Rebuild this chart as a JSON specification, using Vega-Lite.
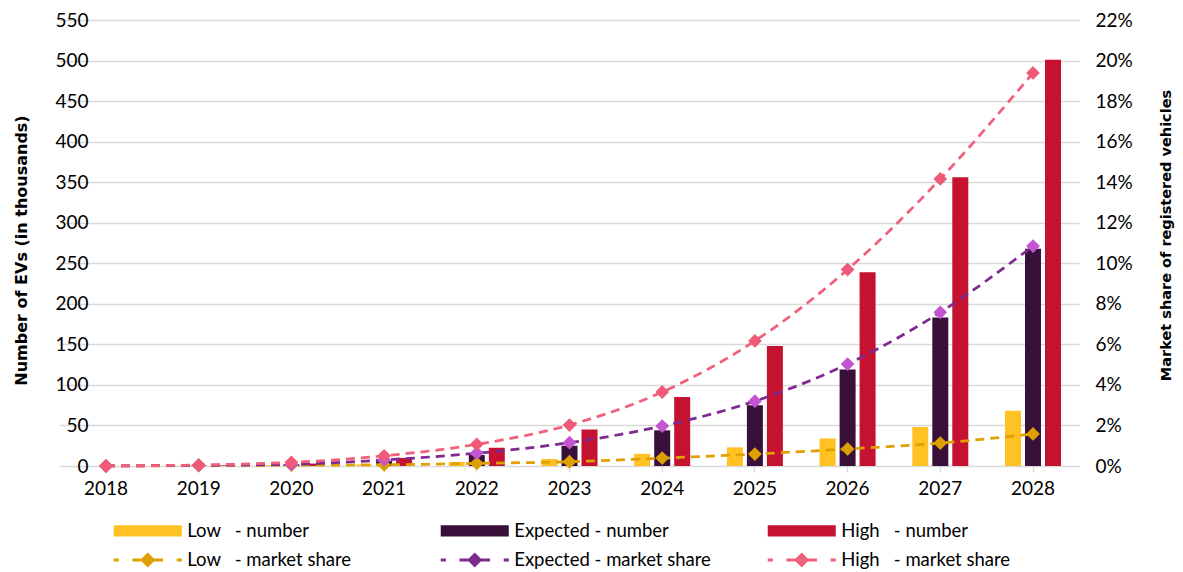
{
  "$schema": "https://vega.github.io/schema/vega-lite/v6.json",
  "width": 974,
  "height": 446,
  "autosize": {"type": "none"},
  "padding": {"left": 106, "top": 20, "right": 103, "bottom": 106},
  "background": "white",
  "config": {
    "view": {"stroke": null},
    "font": "Lato",
    "axis": {"labelFont": "Lato", "labelFontSize": 19, "labelColor": "#000000", "titleFont": "DejaVu Sans", "titleFontWeight": "bold", "titleFontSize": 16, "titleColor": "#000000"}
  },
  "data": {
    "values": [
      {"year": "2018", "scenario": "Low", "number": 0, "share": 0, "numLabel": "Low\u00a0\u00a0 - number", "shareLabel": "Low\u00a0\u00a0 - market share"},
      {"year": "2018", "scenario": "Expected", "number": 0, "share": 0, "numLabel": "Expected - number", "shareLabel": "Expected - market share"},
      {"year": "2018", "scenario": "High", "number": 0, "share": 0, "numLabel": "High\u00a0\u00a0 - number", "shareLabel": "High\u00a0\u00a0 - market share"},
      {"year": "2019", "scenario": "Low", "number": 0.3, "share": 0.0002, "numLabel": "Low\u00a0\u00a0 - number", "shareLabel": "Low\u00a0\u00a0 - market share"},
      {"year": "2019", "scenario": "Expected", "number": 0.5, "share": 0.0003, "numLabel": "Expected - number", "shareLabel": "Expected - market share"},
      {"year": "2019", "scenario": "High", "number": 0.8, "share": 0.0005, "numLabel": "High\u00a0\u00a0 - number", "shareLabel": "High\u00a0\u00a0 - market share"},
      {"year": "2020", "scenario": "Low", "number": 1, "share": 0.0004, "numLabel": "Low\u00a0\u00a0 - number", "shareLabel": "Low\u00a0\u00a0 - market share"},
      {"year": "2020", "scenario": "Expected", "number": 2, "share": 0.0008, "numLabel": "Expected - number", "shareLabel": "Expected - market share"},
      {"year": "2020", "scenario": "High", "number": 3, "share": 0.0018, "numLabel": "High\u00a0\u00a0 - number", "shareLabel": "High\u00a0\u00a0 - market share"},
      {"year": "2021", "scenario": "Low", "number": 2, "share": 0.0006, "numLabel": "Low\u00a0\u00a0 - number", "shareLabel": "Low\u00a0\u00a0 - market share"},
      {"year": "2021", "scenario": "Expected", "number": 6, "share": 0.003, "numLabel": "Expected - number", "shareLabel": "Expected - market share"},
      {"year": "2021", "scenario": "High", "number": 10, "share": 0.005, "numLabel": "High\u00a0\u00a0 - number", "shareLabel": "High\u00a0\u00a0 - market share"},
      {"year": "2022", "scenario": "Low", "number": 5, "share": 0.0013, "numLabel": "Low\u00a0\u00a0 - number", "shareLabel": "Low\u00a0\u00a0 - market share"},
      {"year": "2022", "scenario": "Expected", "number": 13.5, "share": 0.0063, "numLabel": "Expected - number", "shareLabel": "Expected - market share"},
      {"year": "2022", "scenario": "High", "number": 22.5, "share": 0.0107, "numLabel": "High\u00a0\u00a0 - number", "shareLabel": "High\u00a0\u00a0 - market share"},
      {"year": "2023", "scenario": "Low", "number": 8.6, "share": 0.0021, "numLabel": "Low\u00a0\u00a0 - number", "shareLabel": "Low\u00a0\u00a0 - market share"},
      {"year": "2023", "scenario": "Expected", "number": 25, "share": 0.0115, "numLabel": "Expected - number", "shareLabel": "Expected - market share"},
      {"year": "2023", "scenario": "High", "number": 45, "share": 0.0202, "numLabel": "High\u00a0\u00a0 - number", "shareLabel": "High\u00a0\u00a0 - market share"},
      {"year": "2024", "scenario": "Low", "number": 15, "share": 0.0039, "numLabel": "Low\u00a0\u00a0 - number", "shareLabel": "Low\u00a0\u00a0 - market share"},
      {"year": "2024", "scenario": "Expected", "number": 44, "share": 0.0197, "numLabel": "Expected - number", "shareLabel": "Expected - market share"},
      {"year": "2024", "scenario": "High", "number": 85, "share": 0.0365, "numLabel": "High\u00a0\u00a0 - number", "shareLabel": "High\u00a0\u00a0 - market share"},
      {"year": "2025", "scenario": "Low", "number": 23, "share": 0.0059, "numLabel": "Low\u00a0\u00a0 - number", "shareLabel": "Low\u00a0\u00a0 - market share"},
      {"year": "2025", "scenario": "Expected", "number": 75, "share": 0.032, "numLabel": "Expected - number", "shareLabel": "Expected - market share"},
      {"year": "2025", "scenario": "High", "number": 148, "share": 0.0617, "numLabel": "High\u00a0\u00a0 - number", "shareLabel": "High\u00a0\u00a0 - market share"},
      {"year": "2026", "scenario": "Low", "number": 34, "share": 0.0084, "numLabel": "Low\u00a0\u00a0 - number", "shareLabel": "Low\u00a0\u00a0 - market share"},
      {"year": "2026", "scenario": "Expected", "number": 119, "share": 0.0503, "numLabel": "Expected - number", "shareLabel": "Expected - market share"},
      {"year": "2026", "scenario": "High", "number": 239, "share": 0.0969, "numLabel": "High\u00a0\u00a0 - number", "shareLabel": "High\u00a0\u00a0 - market share"},
      {"year": "2027", "scenario": "Low", "number": 48, "share": 0.0113, "numLabel": "Low\u00a0\u00a0 - number", "shareLabel": "Low\u00a0\u00a0 - market share"},
      {"year": "2027", "scenario": "Expected", "number": 183, "share": 0.0758, "numLabel": "Expected - number", "shareLabel": "Expected - market share"},
      {"year": "2027", "scenario": "High", "number": 356, "share": 0.1416, "numLabel": "High\u00a0\u00a0 - number", "shareLabel": "High\u00a0\u00a0 - market share"},
      {"year": "2028", "scenario": "Low", "number": 68, "share": 0.0158, "numLabel": "Low\u00a0\u00a0 - number", "shareLabel": "Low\u00a0\u00a0 - market share"},
      {"year": "2028", "scenario": "Expected", "number": 268, "share": 0.1085, "numLabel": "Expected - number", "shareLabel": "Expected - market share"},
      {"year": "2028", "scenario": "High", "number": 501, "share": 0.1939, "numLabel": "High\u00a0\u00a0 - number", "shareLabel": "High\u00a0\u00a0 - market share"}
    ]
  },
  "layer": [
    {
      "mark": {"type": "bar"},
      "encoding": {
        "x": {
          "field": "year", "type": "ordinal",
          "scale": {"type": "band", "domain": ["2018","2019","2020","2021","2022","2023","2024","2025","2026","2027","2028"], "range": [-46.35, 973.35], "paddingInner": 0.3528, "paddingOuter": 0.1764},
          "axis": {"title": null, "domain": false, "ticks": true, "tickColor": "#D9D9D9", "tickSize": 6, "tickWidth": 1.3, "labelPadding": 7, "labelAngle": 0, "grid": false}
        },
        "xOffset": {"field": "scenario", "type": "nominal", "scale": {"domain": ["Low", "Expected", "High"], "paddingInner": 0.2, "paddingOuter": 0.1}},
        "y": {
          "field": "number", "type": "quantitative",
          "scale": {"domain": [0, 550], "nice": false},
          "axis": {"values": [0,50,100,150,200,250,300,350,400,450,500,550], "grid": true, "gridColor": "#D9D9D9", "gridWidth": 1.3, "domain": false, "ticks": false, "tickSize": 0, "labelPadding": 18, "title": "Number of EVs (in thousands)", "titleAngle": 270, "titleX": -85, "titleY": 230, "titleAlign": "center", "titleBaseline": "middle"}
        },
        "color": {
          "field": "numLabel", "type": "nominal",
          "scale": {
            "domain": ["Low\u00a0\u00a0 - number", "Expected - number", "High\u00a0\u00a0 - number", "Low\u00a0\u00a0 - market share", "Expected - market share", "High\u00a0\u00a0 - market share"],
            "range": ["#FFC222", "#38103A", "#C41230", "#E0A100", "#7E2A8F", "#F0607A"]
          },
          "legend": {
            "title": null, "orient": "none", "legendX": 32.5, "legendY": 500.75, "direction": "horizontal", "columns": 3, "gridAlign": "all",
            "columnPadding": 50, "rowPadding": 6, "padding": 0, "symbolSize": 144, "symbolStrokeWidth": 3, "labelOffset": 30.2, "labelLimit": 300,
            "labelFont": "Lato", "labelFontSize": 18.5, "labelColor": "#000000",
            "encode": {
              "symbols": {
                "update": {
                  "shape": {"signal": "indexof(datum.value, 'number') >= 0 ? 'M-5.42,-0.67H5.42V0.67H-5.42Z' : 'M-5.67,0H-4.82M-2.55,0H-0.9M0.9,0H2.55M4.82,0H5.67M0,-0.9L0.9,0L0,0.9L-0.9,0Z'"},
                  "fill": {"signal": "datum.value == 'Expected - market share' ? '#C455D2' : scale('color', datum.value)"},
                  "stroke": {"scale": "color", "field": "value"}
                }
              }
            }
          }
        }
      }
    },
    {
      "layer": [
        {
          "mark": {"type": "line", "strokeDash": [9, 6], "strokeWidth": 2.75, "interpolate": "monotone"},
          "encoding": {
            "x": {
              "field": "year", "type": "ordinal",
              "scale": {"type": "band", "domain": ["2018","2019","2020","2021","2022","2023","2024","2025","2026","2027","2028"], "range": [-46.35, 973.35], "paddingInner": 0.3528, "paddingOuter": 0.1764}
            },
            "y": {
              "field": "share", "type": "quantitative",
              "scale": {"domain": [0, 0.22], "nice": false},
              "axis": {"orient": "right", "format": ".0%", "values": [0,0.02,0.04,0.06,0.08,0.1,0.12,0.14,0.16,0.18,0.2,0.22], "grid": false, "domain": false, "ticks": false, "tickSize": 0, "labelPadding": 15, "title": "Market share of registered vehicles", "titleFontSize": 14.5, "titleAngle": 270, "titleX": 86, "titleY": 215, "titleAlign": "center", "titleBaseline": "middle"}
            },
            "color": {
              "field": "shareLabel", "type": "nominal",
              "scale": {
                "domain": ["Low\u00a0\u00a0 - number", "Expected - number", "High\u00a0\u00a0 - number", "Low\u00a0\u00a0 - market share", "Expected - market share", "High\u00a0\u00a0 - market share"],
                "range": ["#FFC222", "#38103A", "#C41230", "#E0A100", "#7E2A8F", "#F0607A"]
              }
            }
          }
        },
        {
          "mark": {"type": "point", "shape": "diamond", "size": 190, "filled": true, "opacity": 1, "strokeWidth": 0},
          "encoding": {
            "x": {
              "field": "year", "type": "ordinal",
              "scale": {"type": "band", "domain": ["2018","2019","2020","2021","2022","2023","2024","2025","2026","2027","2028"], "range": [-46.35, 973.35], "paddingInner": 0.3528, "paddingOuter": 0.1764}
            },
            "y": {"field": "share", "type": "quantitative"},
            "fill": {
              "field": "shareLabel", "type": "nominal",
              "scale": {"domain": ["Low\u00a0\u00a0 - market share", "Expected - market share", "High\u00a0\u00a0 - market share"], "range": ["#DCA000", "#C455D2", "#F05A78"]},
              "legend": null
            }
          }
        }
      ]
    }
  ],
  "resolve": {"scale": {"y": "independent"}}
}
